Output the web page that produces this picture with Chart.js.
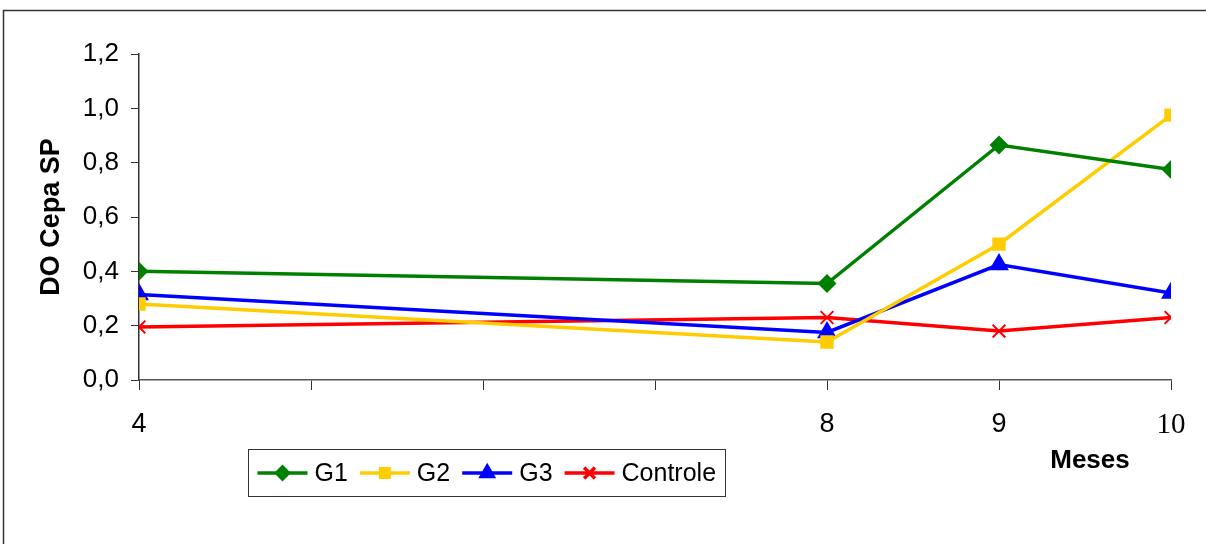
<!DOCTYPE html>
<html>
<head>
<meta charset="utf-8">
<script src="https://cdn.jsdelivr.net/npm/chart.js@4/dist/chart.umd.min.js"></script>
<style>
  html, body { margin: 0; padding: 0; background: #fff; }
  #wrap { width: 1206px; height: 544px; position: relative; }
</style>
</head>
<body>
<div id="wrap"><canvas id="chart"></canvas></div>
<script>
const months = [4, 8, 9, 10];
const g1 = [0.40, 0.355, 0.865, 0.775];
const g2 = [0.28, 0.14, 0.50, 0.975];
const g3 = [0.315, 0.175, 0.425, 0.32];
const controle = [0.195, 0.23, 0.18, 0.23];
const seriesNames = ["G1", "G2", "G3", "Controle"];
const yTitle = "DO Cepa SP";
const xTitle = "Meses";

function points(values) {
    return months.map((m, i) => ({ x: m, y: values[i] }));
}

const sans = '"Liberation Sans", Arial, sans-serif';
const serif = '"Liberation Serif", "Times New Roman", serif';

const frame = {
    id: 'frame',
    beforeDraw(chart) {
        const ctx = chart.ctx;
        ctx.save();
        ctx.fillStyle = '#fff';
        ctx.fillRect(0, 0, chart.width, chart.height);
        ctx.strokeStyle = '#333';
        ctx.lineWidth = 1.5;
        ctx.beginPath();
        ctx.moveTo(3.5, chart.height);
        ctx.lineTo(3.5, 10.5);
        ctx.lineTo(chart.width, 10.5);
        ctx.stroke();
        ctx.restore();
    },
    afterDraw(chart) {
        const ctx = chart.ctx;
        ctx.save();
        // axis title "Meses"
        ctx.fillStyle = '#000';
        ctx.font = 'bold 26px ' + sans;
        ctx.textAlign = 'center';
        ctx.textBaseline = 'middle';
        ctx.fillText(xTitle, 1090, 461);

        // legend box
        const bx = 248.5, by = 449.5, bw = 477, bh = 47;
        ctx.strokeStyle = '#333';
        ctx.lineWidth = 1;
        ctx.strokeRect(bx, by, bw, bh);
        ctx.font = '25px ' + sans;
        ctx.textAlign = 'left';
        let x = bx + 9;
        const cy = by + bh / 2;
        chart.data.datasets.forEach(ds => {
            ctx.strokeStyle = ds.borderColor;
            ctx.lineWidth = 3.5;
            ctx.beginPath();
            ctx.moveTo(x, cy);
            ctx.lineTo(x + 50, cy);
            ctx.stroke();
            ctx.fillStyle = ds.backgroundColor;
            Chart.helpers.drawPoint(ctx, {
                pointStyle: ds.pointStyle,
                radius: ds.pointRadius * 0.85,
                borderWidth: ds.pointBorderWidth || 1
            }, x + 25, cy);
            ctx.fillStyle = '#000';
            ctx.fillText(ds.label, x + 57, cy + 1);
            x += 57 + ctx.measureText(ds.label).width + 12;
        });
        ctx.restore();
    }
};

new Chart(document.getElementById('chart'), {
    type: 'line',
    data: {
        datasets: [
            { label: seriesNames[0], data: points(g1), borderColor: '#008000', backgroundColor: '#008000', pointStyle: 'rectRot', pointRadius: 7 },
            { label: seriesNames[1], data: points(g2), borderColor: '#FFCC00', backgroundColor: '#FFCC00', pointStyle: 'rect', pointRadius: 7 },
            { label: seriesNames[2], data: points(g3), borderColor: '#0000FF', backgroundColor: '#0000FF', pointStyle: 'triangle', pointRadius: 8 },
            { label: seriesNames[3], data: points(controle), borderColor: '#FF0000', backgroundColor: '#FF0000', pointStyle: 'crossRot', pointRadius: 9, pointBorderWidth: 2 }
        ].map(ds => Object.assign({ borderWidth: 3.5, tension: 0, pointHoverRadius: ds.pointRadius }, ds))
    },
    options: {
        responsive: true,
        maintainAspectRatio: false,
        animation: false,
        events: [],
        layout: { padding: { left: 0, top: 54, right: 35, bottom: 0 } },
        plugins: {
            legend: { display: false },
            tooltip: { enabled: false }
        },
        scales: {
            x: {
                type: 'linear',
                min: 4,
                max: 10,
                afterFit(scale) { scale.height = 164; },
                border: { color: '#555', width: 1.5 },
                grid: { drawOnChartArea: false, drawTicks: true, tickLength: 10, color: '#333' },
                ticks: {
                    stepSize: 1,
                    padding: 18,
                    color: '#000',
                    maxRotation: 0,
                    autoSkip: false,
                    font: ctx => (ctx.tick && ctx.tick.value === 10)
                        ? { family: serif, size: 29 }
                        : { family: sans, size: 27 },
                    callback: v => months.includes(v) ? String(v) : ''
                }
            },
            y: {
                min: 0,
                max: 1.2,
                afterFit(scale) { scale.width = 139; },
                border: { color: '#333', width: 1.5 },
                grid: { drawOnChartArea: false, drawTicks: true, tickLength: 8, color: '#333' },
                ticks: {
                    stepSize: 0.2,
                    padding: 12,
                    color: '#000',
                    font: { family: sans, size: 26 },
                    callback: v => v.toFixed(1).replace('.', ',')
                },
                title: {
                    display: true,
                    text: yTitle,
                    color: '#000',
                    font: { family: sans, size: 27, weight: 'bold' },
                    padding: { top: 35, bottom: 0 }
                }
            }
        }
    },
    plugins: [frame]
});
</script>
</body>
</html>
